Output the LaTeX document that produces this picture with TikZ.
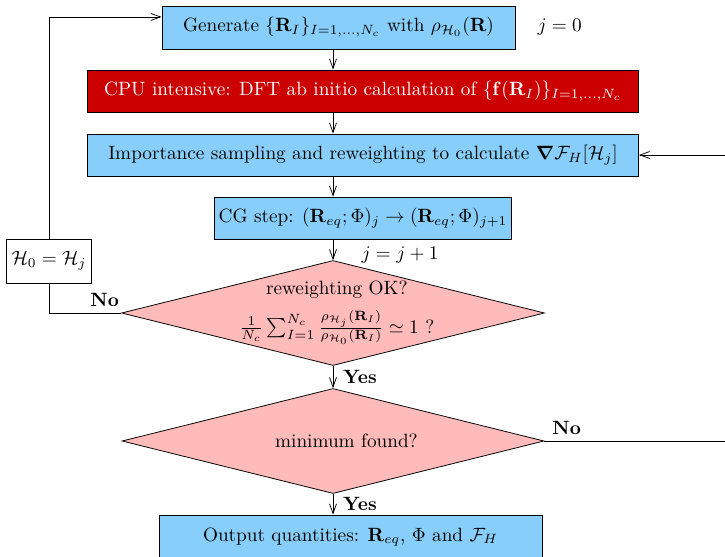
\documentclass[tikz,border=0pt]{standalone}
\usepackage{tikz}
\usetikzlibrary{arrows.meta,shapes,positioning}
\usepackage{amsmath,amssymb,amsfonts}
\usepackage{xcolor}
\definecolor{boxblue}{rgb}{0.53,0.81,0.98}
\definecolor{cpured}{rgb}{0.80,0.0,0.0}
\definecolor{testpink}{rgb}{1.0,0.73,0.73}
\newcommand{\Rb}{\mathbf{R}}
\newcommand{\Hc}{\mathcal{H}}
\newcommand{\Fc}{\mathcal{F}}
\tikzset{
  stepbox/.style={draw, fill=boxblue, inner sep=0pt},
  testbox/.style={draw, fill=testpink, diamond, aspect=4, inner sep=0pt},
  lbl/.style={font=\bfseries, inner sep=1pt},
  >={Straight Barb[length=5pt,width=3.6pt]}
}
\begin{document}
\begin{tikzpicture}[x=0.52pt, y=-0.52pt]
        \clip (0,0) rectangle (725,556);
        \node (gen) [stepbox, minimum width=353*0.52pt, minimum height=43*0.52pt] at (338.5,27.5)
          {Generate $\{\Rb_I\}_{I=1,\dots,N_c}$ with $\rho_{\Hc_0}(\Rb)$};
        \node (j0) [right=8pt of gen] {$j=0$};
        \node (cpu) [stepbox, fill=cpured, text=white, minimum width=551*0.52pt, minimum height=42*0.52pt] at (363,91)
          {CPU intensive: DFT ab initio calculation of $\{\mathbf{f}(\Rb_I)\}_{I=1,\dots,N_c}$};
        \node (imp) [stepbox, minimum width=551*0.52pt, minimum height=42*0.52pt] at (363,155)
          {Importance sampling and reweighting to calculate $\boldsymbol{\nabla}\Fc_H[\Hc_j]$};
        \node (cg) [stepbox, minimum width=297*0.52pt, minimum height=42*0.52pt] at (363,218)
          {CG step: $(\Rb_{eq};\Phi)_j\rightarrow(\Rb_{eq};\Phi)_{j+1}$};
        \node (h0) [draw, minimum width=85*0.52pt, minimum height=44*0.52pt, inner sep=0pt] at (49,261)
          {$\Hc_0=\Hc_j$};
        \node (rew) [testbox, minimum width=423*0.52pt, minimum height=105*0.52pt,
          label={[align=center, xshift=2pt]center:reweighting OK?\\[5pt]
           $\frac{1}{N_c}\sum_{I=1}^{N_c}\frac{\rho_{\Hc_j}(\Rb_I)}{\rho_{\Hc_0}(\Rb_I)}\simeq 1$ ?}] at (333,313) {};
        \node (jinc) at (400,255) {$j=j+1$};
        \node (minf) [testbox, minimum width=422*0.52pt, minimum height=105*0.52pt,
          label={[xshift=7pt]center:minimum found?}] at (333,441) {};
        \node (out) [stepbox, minimum width=383*0.52pt, minimum height=44*0.52pt] at (350.5,537)
          {Output quantities: $\Rb_{eq}$, $\Phi$ and $\Fc_H$};

        \draw[->] (gen.south -| rew) -- (cpu.north -| rew);
        \draw[->] (cpu.south -| rew) -- (imp.north -| rew);
        \draw[->] (imp.south -| rew) -- (cg.north -| rew);
        \draw[->] (cg.south -| rew) -- (rew.north);
        \draw[->] (rew.south) -- (minf.north) node[lbl, midway, right=4pt] {Yes};
        \draw[->] (minf.south) -- (out.north -| minf) node[lbl, midway, right=4pt] {Yes};
        \draw (rew.west) -| (h0.south);
        \node[lbl, above left=2pt and 0pt of rew.west] {No};
        \draw[->] (h0.north) |- ([yshift=5.5pt]gen.west);
        \draw[->] (minf.east) -- ++(250,0) |- (imp.east);
        \node[lbl, above right=2pt and 3pt of minf.east] {No};
\end{tikzpicture}
\end{document}
